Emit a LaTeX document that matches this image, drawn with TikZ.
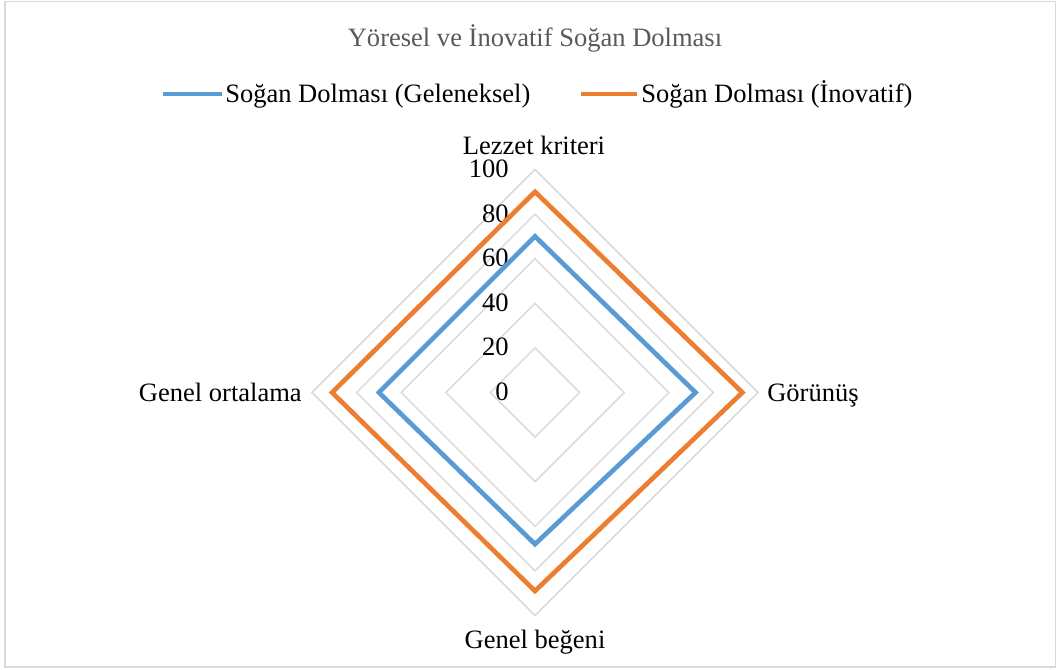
\documentclass[tikz,border=0pt]{standalone}
\usepackage{fontspec}
\setmainfont{Liberation Serif}
\definecolor{serA}{HTML}{5B9BD5}
\definecolor{serB}{HTML}{ED7D31}
\definecolor{gridc}{HTML}{D9D9D9}
\definecolor{titlec}{HTML}{595959}
\begin{document}
\begin{tikzpicture}[x=0.75pt,y=-0.75pt,
  lbl/.style={font=\fontsize{19.9}{24}\selectfont, inner sep=0pt},
  gridline/.style={draw=gridc, line width=1.1pt},
  serline/.style={line width=3.5pt, line join=miter}]
\useasboundingbox (0,0) rectangle (1058,669);
\draw[gridc, line width=1pt] (5,1.5) rectangle (1055.5,667);
% title
\node[lbl, text=titlec, anchor=base] (title) at (535,46) {Yöresel ve İnovatif Soğan Dolması};
% legend
\coordinate (la1) at (163,94);
\coordinate (la2) at (222,94);
\draw[serA, line width=3.5pt] (la1) -- (la2);
\node[lbl, anchor=base west] (lt1) at (225,102) {Soğan Dolması (Geleneksel)};
\coordinate (lb1) at (581,94);
\coordinate (lb2) at (637,94);
\draw[serB, line width=3.5pt] (lb1) -- (lb2);
\node[lbl, anchor=base west] (lt2) at (641,102) {Soğan Dolması (İnovatif)};
% grid
\foreach \v in {20,40,60,80,100} {
  \draw[gridline] (535,392.5-2.23*\v) -- (535+2.23*\v,392.5) -- (535,392.5+2.23*\v) -- (535-2.23*\v,392.5) -- cycle;
}
% tick labels
\foreach \v in {0,20,40,60,80,100} {
  \node[lbl, anchor=base east] (t\v) at (509,400.5-2.23*\v) {\v};
}
% series
\draw[serA, serline] (535,392.5-2.23*70) -- (535+2.23*72,392.5) -- (535,392.5+2.23*68) -- (535-2.23*70,392.5) -- cycle;
\draw[serB, serline] (535,392.5-2.23*90) -- (535+2.23*93,392.5) -- (535,392.5+2.23*89) -- (535-2.23*91,392.5) -- cycle;
% axis labels
\node[lbl, anchor=base] (ax1) at (534,154) {Lezzet kriteri};
\node[lbl, anchor=base west] (ax2) at (767,401) {Görünüş};
\node[lbl, anchor=base] (ax3) at (535,648) {Genel beğeni};
\node[lbl, anchor=base east] (ax4) at (302,401) {Genel ortalama};
\end{tikzpicture}
\end{document}
